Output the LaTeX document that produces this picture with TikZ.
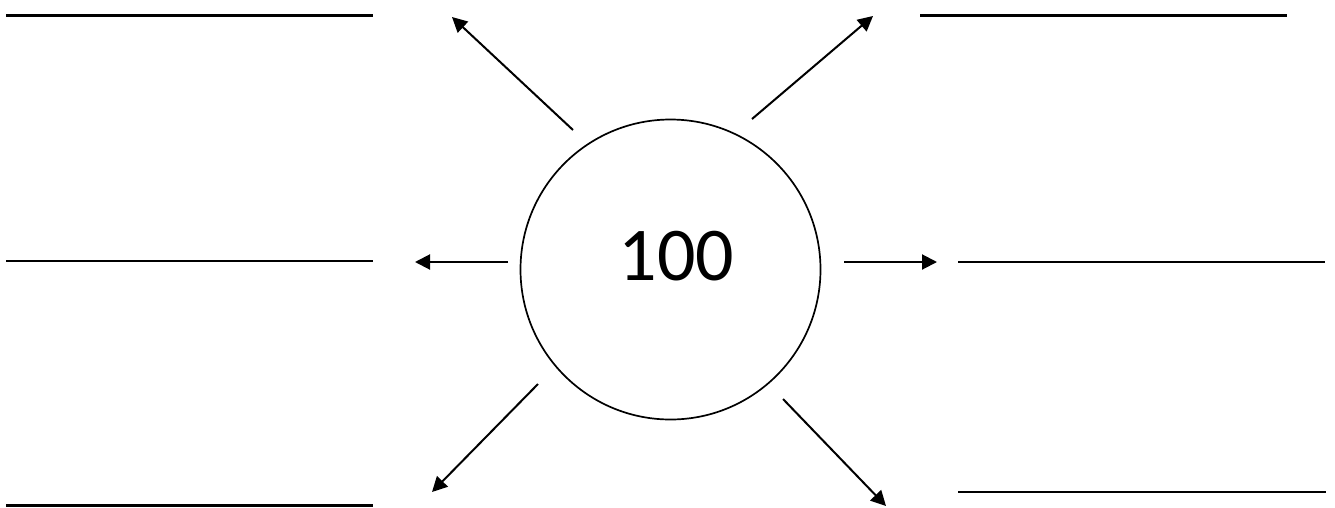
\documentclass[tikz,border=0pt]{standalone}
\usepackage{fontspec}
\setmainfont{Carlito}
\usetikzlibrary{arrows.meta}
\begin{document}
\begin{tikzpicture}[x=1pt,y=-1pt,
  blank/.style={line width=2.3pt,black},
  ray/.style={line width=2pt,black,-{Triangle[length=15pt,width=15pt]}},
  hub/.style={circle,draw,line width=1.7pt,minimum size=300pt,inner sep=0pt}]
\useasboundingbox (0,0) rectangle (1335,507);
\node[hub] (c) at (670.5,269.5) {};
\node[anchor=base,inner sep=0pt,font=\fontsize{76}{80}\selectfont] (t) at (676.5,280) {100};
% blank answer lines
\coordinate (l1a) at (6,15.5);   \coordinate (l1b) at (373,15.5);
\coordinate (l2a) at (920,15.5); \coordinate (l2b) at (1287,15.5);
\coordinate (l3a) at (6,261);    \coordinate (l3b) at (373,261);
\coordinate (l4a) at (958,262);  \coordinate (l4b) at (1325,262);
\coordinate (l5a) at (6,505.5);  \coordinate (l5b) at (373,505.5);
\coordinate (l6a) at (958,492);  \coordinate (l6b) at (1326,492);
\foreach \i in {1,...,6} \draw[blank] (l\i a) -- (l\i b);
% arrows
\coordinate (a1s) at (573,130); \coordinate (a1e) at (452,17);
\coordinate (a2s) at (752,119); \coordinate (a2e) at (873,16);
\coordinate (a3s) at (508,262); \coordinate (a3e) at (415,262);
\coordinate (a4s) at (844,262); \coordinate (a4e) at (937,262);
\coordinate (a5s) at (538,384); \coordinate (a5e) at (432,492);
\coordinate (a6s) at (783,399); \coordinate (a6e) at (886,506);
\foreach \i in {1,...,6} \draw[ray] (a\i s) -- (a\i e);
\end{tikzpicture}
\end{document}
